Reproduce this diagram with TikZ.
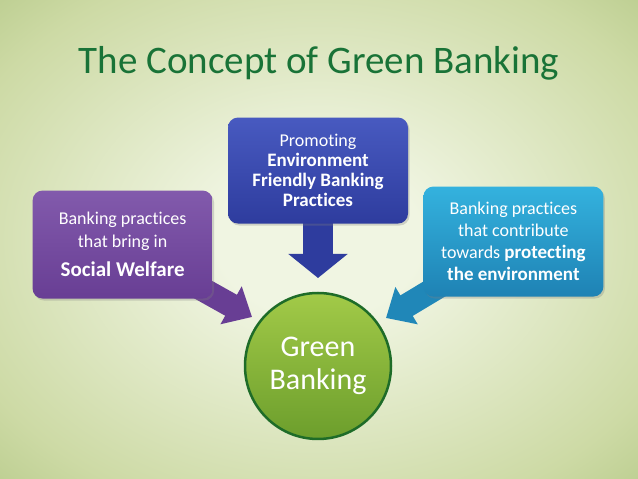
\documentclass[tikz,border=0pt]{standalone}
\usepackage{fontspec}
\setmainfont{Carlito}[Ligatures=CommonOff]
\usetikzlibrary{arrows.meta,positioning,shadows}

\definecolor{bgin}{RGB}{240,245,226}
\definecolor{bgmid}{RGB}{205,218,165}
\definecolor{bgout}{RGB}{152,180,100}
\definecolor{titlegreen}{RGB}{25,115,55}
\definecolor{socialtop}{RGB}{130,90,172}
\definecolor{socialbot}{RGB}{104,62,148}
\definecolor{promotop}{RGB}{72,90,192}
\definecolor{promobot}{RGB}{46,60,158}
\definecolor{protecttop}{RGB}{52,178,222}
\definecolor{protectbot}{RGB}{30,130,180}
\definecolor{greentop}{RGB}{162,202,72}
\definecolor{greenbot}{RGB}{108,158,44}
\definecolor{greenedge}{RGB}{30,108,40}

\pgfdeclareradialshading{slideglow}{\pgfpoint{0bp}{0bp}}{color(0bp)=(bgin); color(8bp)=(bgin); color(30bp)=(bgmid); color(50bp)=(bgout)}

\pgfdeclarelayer{slide}
\pgfdeclarelayer{links}
\pgfsetlayers{slide,links,main}

\begin{document}
\begin{tikzpicture}[
            x=1pt, y=1pt,
            box/.style={rounded corners=10pt, minimum width=180pt, minimum height=108pt, align=center, text=white, inner sep=4pt, font=\fontsize{18}{22.5}\selectfont, drop shadow={opacity=0.3, shadow xshift=1.5pt, shadow yshift=-2pt}},
            socialbox/.style={box, top color=socialtop, bottom color=socialbot},
            promobox/.style={box, top color=promotop, bottom color=promobot, minimum height=106pt, font=\fontsize{18}{20}\selectfont},
            protectbox/.style={box, top color=protecttop, bottom color=protectbot, minimum height=110pt, font=\fontsize{18}{22}\selectfont},
            hub/.style={circle, minimum size=146pt, top color=greentop, bottom color=greenbot, draw=greenedge, line width=2.5pt, text=white, align=center, font=\fontsize{30}{33}\selectfont},
            fatarrow/.style={line width=24pt, -{Triangle[width=42pt, length=24pt]}},
            bigarrow/.style={line width=30pt, -{Triangle[width=58pt, length=24pt]}}
        ]

        % Slide background
        \useasboundingbox (0,0) rectangle (638,479);
        \begin{pgfonlayer}{slide}
            \shade[shading=slideglow] (0,0) rectangle (638,479);
        \end{pgfonlayer}

        \node[text=titlegreen, font=\fontsize{39}{42}\selectfont] (title) at (319,416) {The Concept of Green Banking};

        \node[hub] (green) at (318,113) {Green\\Banking};

        \node[promobox, above=68pt of green] (promo) {Promoting\\{\fontsize{19}{20}\selectfont\bfseries Environment}\\{\fontsize{19}{20}\selectfont\bfseries Friendly Banking}\\{\fontsize{19}{20}\selectfont\bfseries Practices}};

        \node[socialbox, left=15pt of promo, yshift=-74pt] (social) {Banking practices\\that bring in\\[7pt]{\fontsize{21}{24}\selectfont\bfseries Social Welfare}};

        \node[protectbox, right=15pt of promo, yshift=-71pt] (protect) {Banking practices\\that contribute\\towards {\fontsize{19}{22}\selectfont\bfseries protecting}\\{\fontsize{19}{22}\selectfont\bfseries the environment}};

        % Arrow tips
        \coordinate (tipL) at (252,162);
        \coordinate (tipC) at (318,201);
        \coordinate (tipR) at (386,161);

        % Arrows into the hub (under the boxes)
        \begin{pgfonlayer}{links}
            \draw[fatarrow, socialbot] (social.center) -- (tipL);
            \draw[bigarrow, promobot] (promo.center) -- (tipC);
            \draw[fatarrow, protectbot!90!protecttop] (protect.center) -- (tipR);
        \end{pgfonlayer}

    \end{tikzpicture}
\end{document}
